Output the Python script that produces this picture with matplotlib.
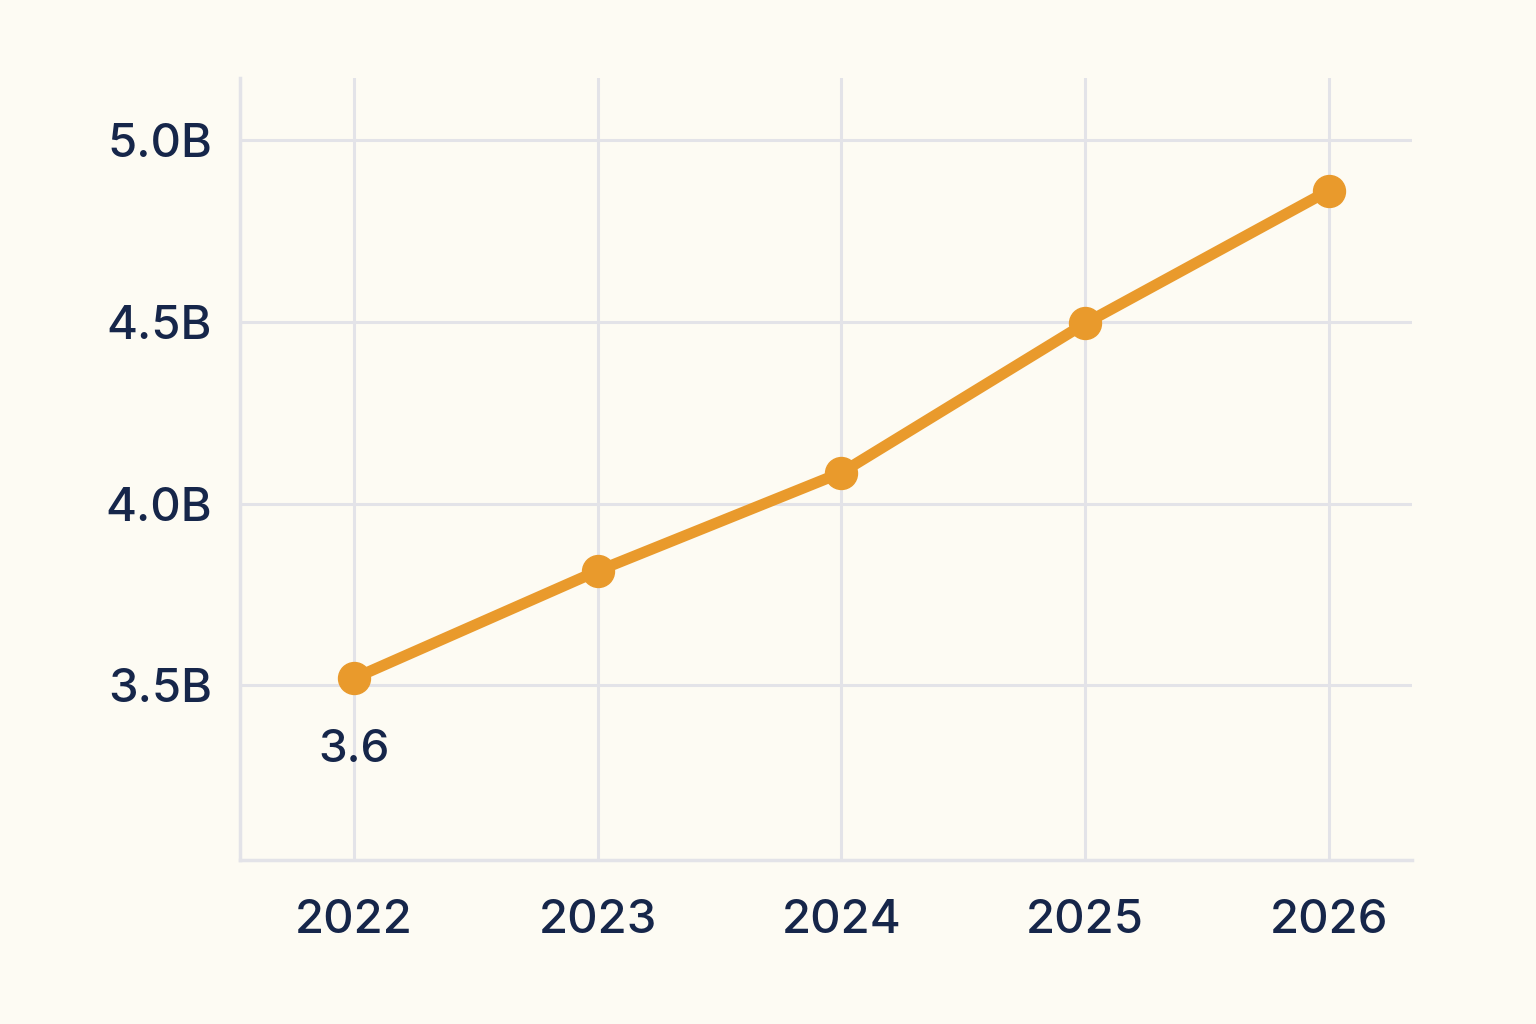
import matplotlib
matplotlib.use("Agg")
import matplotlib.pyplot as plt

# data
years = ["2022", "2023", "2024", "2025", "2026"]
values = [3.52, 3.815, 4.085, 4.495, 4.86]
y_ticks = [3.5, 4.0, 4.5, 5.0]
y_tick_labels = ["3.5B", "4.0B", "4.5B", "5.0B"]
first_label = "3.6"

bg = "#FDFBF3"
orange = "#E99A2C"
navy = "#16264A"
grid_col = "#E3E3E8"

plt.rcParams["font.family"] = ["Inter", "DejaVu Sans"]

fig = plt.figure(figsize=(15.36, 10.24), dpi=100, facecolor=bg)
ax = fig.add_axes([0.156, 0.160, 0.763, 0.764], facecolor=bg)

x = list(range(len(years)))
ax.plot(x, values, color=orange, lw=8, marker="o", ms=23, solid_capstyle="round", zorder=3)

# the lone value label under the first point
ax.annotate(first_label, (x[0], values[0]), xytext=(0, -52), textcoords="offset points",
            ha="center", va="center", fontsize=33, color=navy, fontweight="medium")

ax.set_xlim(-0.47, 4.34)
ax.set_ylim(3.02, 5.17)
ax.set_xticks(x)
ax.set_xticklabels(years)
ax.set_yticks(y_ticks)
ax.set_yticklabels(y_tick_labels)

ax.grid(True, color=grid_col, lw=2.2)
ax.set_axisbelow(True)
for s in ["top", "right"]:
    ax.spines[s].set_visible(False)
for s in ["left", "bottom"]:
    ax.spines[s].set_color(grid_col)
    ax.spines[s].set_linewidth(2.5)

ax.tick_params(axis="both", length=0, labelsize=34, labelcolor=navy)
ax.tick_params(axis="y", pad=20)
ax.tick_params(axis="x", pad=28)
for t in ax.get_xticklabels() + ax.get_yticklabels():
    t.set_fontweight("medium")

fig.savefig("out.png", dpi=100, facecolor=bg)
